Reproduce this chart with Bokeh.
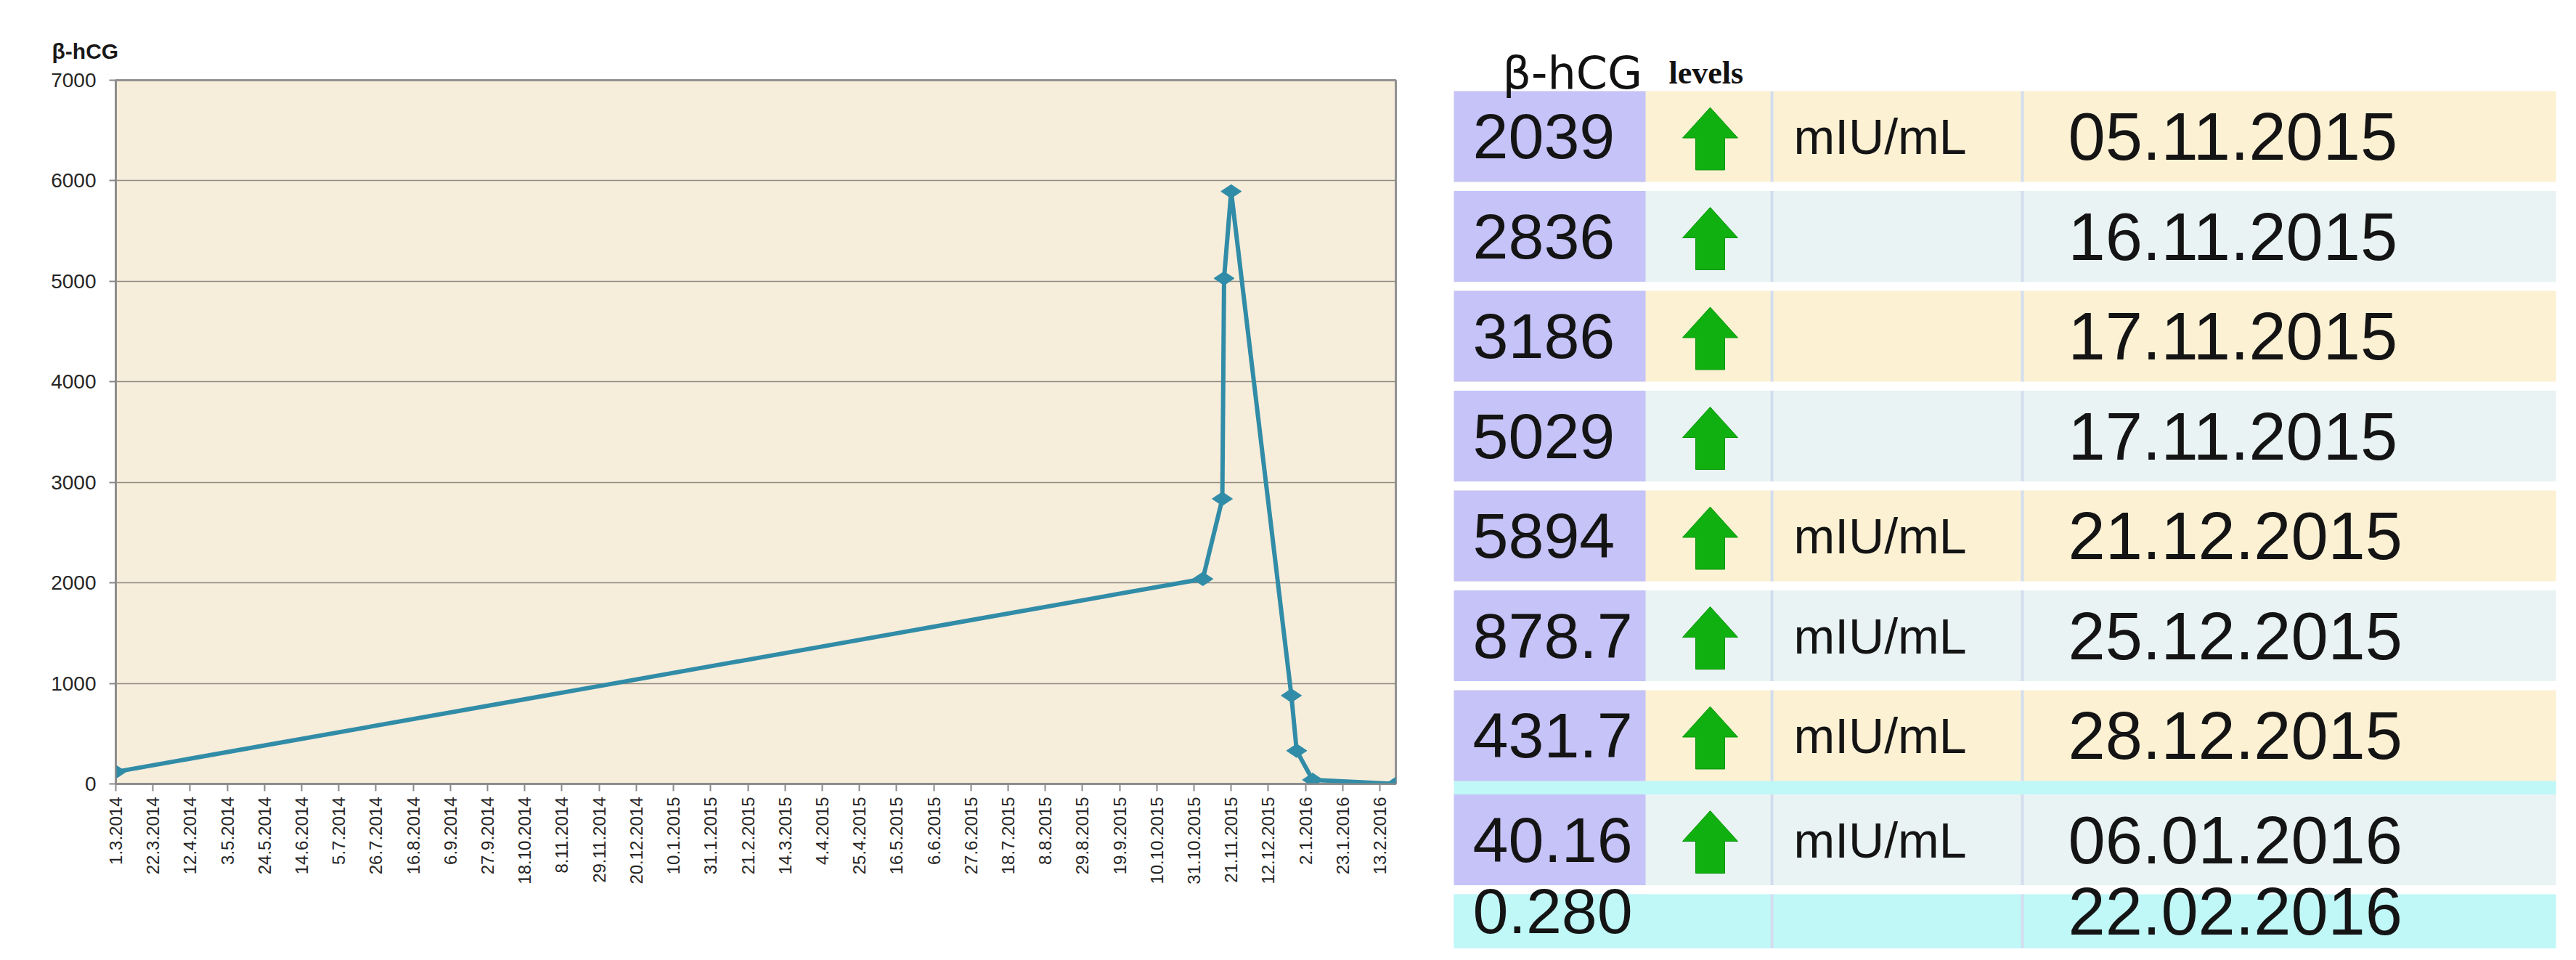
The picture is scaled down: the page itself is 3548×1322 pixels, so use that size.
from datetime import datetime
from math import pi

from bokeh.plotting import figure
from bokeh.layouts import row
from bokeh.models import Range1d, FixedTicker, ColumnDataSource
from bokeh.core.properties import value
from bokeh.embed import file_html
from bokeh.resources import INLINE

# ---------------- data ----------------
chart_dates = ["01.03.2014", "05.11.2015", "16.11.2015", "17.11.2015", "21.11.2015",
               "25.12.2015", "28.12.2015", "06.01.2016", "22.02.2016"]
chart_values = [120, 2039, 2836, 5029, 5894, 878.7, 330, 40.16, 0.28]

x_tick_labels = ["1.3.2014", "22.3.2014", "12.4.2014", "3.5.2014", "24.5.2014", "14.6.2014",
                 "5.7.2014", "26.7.2014", "16.8.2014", "6.9.2014", "27.9.2014", "18.10.2014",
                 "8.11.2014", "29.11.2014", "20.12.2014", "10.1.2015", "31.1.2015", "21.2.2015",
                 "14.3.2015", "4.4.2015", "25.4.2015", "16.5.2015", "6.6.2015", "27.6.2015",
                 "18.7.2015", "8.8.2015", "29.8.2015", "19.9.2015", "10.10.2015", "31.10.2015",
                 "21.11.2015", "12.12.2015", "2.1.2016", "23.1.2016", "13.2.2016"]
y_ticks = [0, 1000, 2000, 3000, 4000, 5000, 6000, 7000]

table_values = ["2039", "2836", "3186", "5029", "5894", "878.7", "431.7", "40.16", "0.280"]
table_arrow = [True, True, True, True, True, True, True, True, False]
table_units = ["mIU/mL", "", "", "", "mIU/mL", "mIU/mL", "mIU/mL", "mIU/mL", ""]
table_dates = ["05.11.2015", "16.11.2015", "17.11.2015", "17.11.2015", "21.12.2015",
               "25.12.2015", "28.12.2015", "06.01.2016", "22.02.2016"]

# ---------------- chart ----------------
EPOCH = datetime(1970, 1, 1)


def to_ms(d):
    return (d - EPOCH).total_seconds() * 1000.0


cx = [datetime.strptime(s, "%d.%m.%Y") for s in chart_dates]
tick_dt = [datetime.strptime(s, "%d.%m.%Y") for s in x_tick_labels]
tick_ms = [to_ms(d) for d in tick_dt]

LINE = "#318ca7"
AX = "#8a8a8a"
TXT = "#262626"

p = figure(width=1982, height=1306, x_axis_type="datetime",
           x_range=Range1d(start=min(cx), end=max(cx)),
           y_range=Range1d(start=y_ticks[0], end=y_ticks[-1]),
           output_backend="svg", toolbar_location=None,
           min_border_left=159, min_border_right=60,
           min_border_top=110, min_border_bottom=227,
           background_fill_color="#f7eddb", border_fill_color="white",
           outline_line_color="#929292", outline_line_width=3)

p.title.text = "β-hCG"
p.title.text_font = "Liberation Sans"
p.title.text_font_size = "30px"
p.title.text_font_style = "bold"
p.title.text_color = "#1a1a1a"
p.title.align = "left"
p.title.offset = -88
p.title.standoff = 48

src = ColumnDataSource(data=dict(x=cx, y=chart_values))
p.line("x", "y", source=src, line_color=LINE, line_width=6)
p.scatter("x", "y", source=src, marker="diamond", size=28, angle=pi / 2,
          fill_color=LINE, line_color=LINE)

p.xgrid.visible = False
p.ygrid.grid_line_color = "#8f8b82"
p.ygrid.grid_line_width = 1.5

p.yaxis.ticker = FixedTicker(ticks=y_ticks)
p.xaxis.ticker = FixedTicker(ticks=tick_ms)
p.xaxis.major_label_overrides = {t: lab for t, lab in zip(tick_ms, x_tick_labels)}
p.xaxis.major_label_orientation = pi / 2

for ax in (p.xaxis, p.yaxis):
    ax.axis_line_color = AX
    ax.axis_line_width = 2
    ax.major_tick_line_color = AX
    ax.major_tick_line_width = 2
    ax.major_tick_in = 0
    ax.minor_tick_line_color = None
    ax.major_label_text_color = TXT
    ax.major_label_text_font = "Liberation Sans"

p.xaxis.major_tick_out = 10
p.xaxis.major_label_standoff = 8
p.xaxis.major_label_text_font_size = "24px"
p.yaxis.major_tick_out = 9
p.yaxis.major_label_standoff = 18
p.yaxis.major_label_text_font_size = "28px"

# ---------------- table ----------------
T_LEFT, T_RIGHT = 2010, 3528
COL1_R = 2274
SEP1, SEP2 = 2448, 2793
ARROW_X = 2363
ROW_TOP0, ROW_PITCH, ROW_H = 133, 137.5, 125

t = figure(width=1550, height=1306, x_range=Range1d(1990, 3540), y_range=Range1d(1314, 8),
           output_backend="svg", toolbar_location=None,
           x_axis_location=None, y_axis_location=None,
           min_border=0, outline_line_color=None,
           background_fill_color="white", border_fill_color="white")
t.grid.visible = False

# keep each figure's frame independent of its neighbour
for fig in (p, t):
    if "frame_align" in fig.properties():
        fig.frame_align = False

n = len(table_values)
tops = [ROW_TOP0 + i * ROW_PITCH + (6 if i >= 7 else 0) for i in range(n)]
bots = [tp + ROW_H for tp in tops]
mids = [(a + b) / 2 for a, b in zip(tops, bots)]
text_y = [min(m, 1262) for m in mids]

CREAM, BLUEGRAY, CYAN, PURPLE = "#fdf1d4", "#e9f3f3", "#c0f7f7", "#c5c3f8"
row_fill = []
col1_fill = []
for i in range(n):
    if i == n - 1:
        row_fill.append(CYAN)
        col1_fill.append(CYAN)
    else:
        row_fill.append(CREAM if i % 2 == 0 else BLUEGRAY)
        col1_fill.append(PURPLE)

# cyan band between rows 7 and 8
t.quad(left=[T_LEFT], right=[T_RIGHT], top=[bots[6] - 2], bottom=[tops[7] + 2],
       fill_color=CYAN, line_color=None)
t.quad(left=[T_LEFT] * n, right=[T_RIGHT] * n, top=tops, bottom=bots,
       fill_color=row_fill, line_color=None)
t.quad(left=[T_LEFT] * n, right=[COL1_R] * n, top=tops, bottom=bots,
       fill_color=col1_fill, line_color=None)
for sx in (SEP1, SEP2):
    t.segment(x0=[sx] * n, x1=[sx] * n, y0=tops, y1=bots, line_color="#d3ddf0", line_width=4)

# arrows
axs, ays = [], []
for i in range(n):
    if not table_arrow[i]:
        continue
    cy = mids[i]
    hw, sw = 38, 20
    axs.append([ARROW_X, ARROW_X + hw, ARROW_X + sw, ARROW_X + sw,
                ARROW_X - sw, ARROW_X - sw, ARROW_X - hw])
    ays.append([cy - 40, cy + 2, cy + 2, cy + 46, cy + 46, cy + 2, cy + 2])
t.patches(axs, ays, fill_color="#10b010", line_color="#0b960b", line_width=1)

FONT = value("Liberation Sans")
t.text(x=[2036] * n, y=text_y, text=table_values, text_font=FONT, text_font_size="88px",
       text_baseline="middle", text_align="left", text_color="#141414")
t.text(x=[2478] * n, y=text_y, text=table_units, text_font=FONT, text_font_size="68px",
       text_baseline="middle", text_align="left", text_color="#141414")
t.text(x=[2856] * n, y=text_y, text=table_dates, text_font=FONT, text_font_size="92px",
       text_baseline="middle", text_align="left", text_color="#141414")

# title of table
t.text(x=[2077], y=[108], text=["β-hCG"], text_font=value("DejaVu Sans"),
       text_font_size="62px", text_baseline="alphabetic", text_align="left",
       text_color="#111111")
t.text(x=[2306], y=[108], text=["levels"], text_font=value("Liberation Serif"),
       text_font_size="44px", text_font_style="bold", text_baseline="alphabetic",
       text_align="left", text_color="#111111")

layout = row(p, t)
open("out.html", "w").write(file_html(layout, INLINE))
